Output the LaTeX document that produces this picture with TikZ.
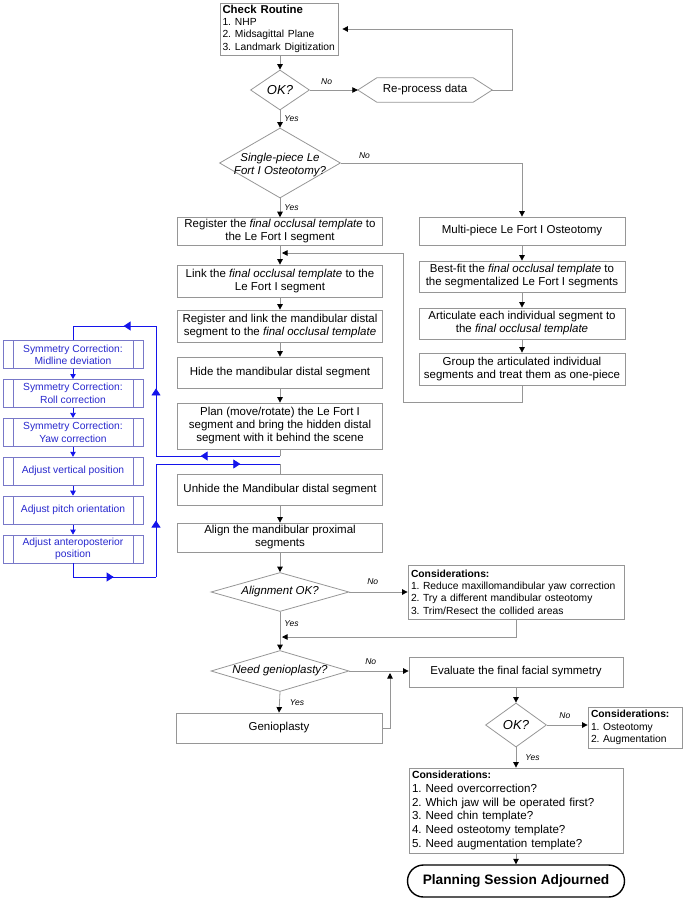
\documentclass[tikz,border=0pt]{standalone}
\usepackage{fontspec}
\setmainfont{Liberation Sans}
\usepackage{tikz}
\usetikzlibrary{shapes.geometric,arrows.meta,calc,decorations.markings}
\definecolor{edgegray}{RGB}{150,150,150}
\definecolor{blueln}{RGB}{20,20,235}
\definecolor{bluebd}{RGB}{120,120,200}
\definecolor{bluetx}{RGB}{40,40,205}
\frenchspacing
\hyphenpenalty=10000

\begin{document}
\begin{tikzpicture}[
  x=1pt, y=-1pt,
  font=\fontsize{11.5}{13}\selectfont,
  every node/.append style={align=center},
  box/.style={draw=edgegray, line width=0.8pt, inner sep=2pt},
  lcol/.style={box, minimum width=205pt},
  rcol/.style={box, minimum width=206pt},
  note/.style={box, align=left, inner xsep=3pt, font=\fontsize{10.3}{12.3}\selectfont},
  dia/.style={diamond, draw=edgegray, line width=0.8pt, inner sep=0pt},
  dtext/.style={font=\fontsize{11.5}{13.5}\selectfont\itshape, inner sep=0pt},
  bigq/.style={font=\fontsize{13}{15}\selectfont\itshape},
  symbox/.style={draw=bluebd, line width=0.8pt, text=bluetx, font=\fontsize{10.3}{12.3}\selectfont,
    minimum width=140pt, minimum height=28pt, inner sep=1pt, path picture={
    \draw[bluebd, line width=0.8pt] ([xshift=10pt]path picture bounding box.north west) -- ([xshift=10pt]path picture bounding box.south west);
    \draw[bluebd, line width=0.8pt] ([xshift=-10pt]path picture bounding box.north east) -- ([xshift=-10pt]path picture bounding box.south east);}},
  term/.style={draw=black, line width=1.4pt, rounded corners=16pt, minimum width=217pt, minimum height=32pt,
    font=\fontsize{13.7}{15}\selectfont\bfseries},
  conn/.style={draw=edgegray, line width=0.8pt},
  arr/.style={conn, -{Triangle[length=5.5pt, width=5.5pt, black]}},
  bluecon/.style={draw=blueln, line width=0.8pt},
  bluesm/.style={bluecon, -{Triangle[length=5pt, width=5.5pt]}},
  bluemid/.style={bluecon, postaction={decorate}, decoration={markings,
    mark=at position #1 with {\arrow{Triangle[length=7pt, width=9pt]}}}},
  lbl/.style={font=\fontsize{8.5}{10}\selectfont\itshape, inner sep=1pt}
]
\useasboundingbox (0,0) rectangle (685,900);

% check and re-process
\node[box, align=left, text width=113pt, inner xsep=2.5pt, minimum height=52pt] (chk) at (279,29)
  {{\fontsize{11.4}{12.3}\selectfont\bfseries Check Routine}\\
   \fontsize{10.3}{12.3}\selectfont 1. NHP\\2. Midsagittal Plane\\3. Landmark Digitization};
\node[dia, minimum width=59pt, minimum height=40pt] (ok1) at (280,90) {};
\node[dtext, bigq] (ok1t) at (ok1) {OK?};
\node[inner sep=0pt, minimum width=96pt, minimum height=24pt] (repro) at (425,90) {Re-process data};
\coordinate (repL) at ($(repro.west)+(-19,0)$);
\coordinate (repR) at ($(repro.east)+(19,0)$);
\coordinate (repT) at (512,90);
\draw[conn] (repro.north west) -- (repro.north east) -- (repR) -- (repro.south east)
  -- (repro.south west) -- (repL) -- cycle;
\node[dia, minimum width=121pt, minimum height=70pt] (single) at (280,163) {};
\node[dtext] (singlet) at ([yshift=-2pt]single.center) {Single-piece Le\\Fort I Osteotomy?};

% single-piece column
\node[lcol, minimum height=27pt] (reg) at (280,231.5) {Register the \textit{final occlusal template} to\\the Le Fort I segment};
\node[lcol, minimum height=32pt] (link) at (280,281) {Link the \textit{final occlusal template} to the\\Le Fort I segment};
\node[lcol, minimum height=32pt] (regl) at (280,326) {Register and link the mandibular distal\\segment to the \textit{final occlusal template}};
\node[lcol, minimum height=31pt] (hide) at (280,372.5) {Hide the mandibular distal segment};
\node[lcol, minimum height=46pt] (plan) at (280,426) {Plan (move/rotate) the Le Fort I\\segment and bring the hidden distal\\segment with it behind the scene};
\node[lcol, minimum height=31pt] (unhide) at (280,489.5) {Unhide the Mandibular distal segment};
\node[lcol, minimum height=29pt] (alignp) at (280,537.5) {Align the mandibular proximal\\segments};
\node[dia, minimum width=138pt, minimum height=39pt] (align) at (280,592) {};
\node[dtext] (alignt) at (align) {Alignment OK?};
\node[dia, minimum width=138pt, minimum height=41pt] (genio) at (280,671) {};
\node[dtext] (geniot) at (genio) {Need genioplasty?};
\node[box, minimum width=206pt, minimum height=30pt] (genp) at (279,728) {Genioplasty};

% multi-piece column
\node[rcol, minimum height=28pt] (multi) at (522,231) {Multi-piece Le Fort I Osteotomy};
\node[rcol, minimum height=31pt] (best) at (522,276.5) {Best-fit the \textit{final occlusal template} to\\the segmentalized Le Fort I segments};
\node[rcol, minimum height=31pt] (artic) at (522,323.5) {Articulate each individual segment to\\the \textit{final occlusal template}};
\node[rcol, minimum height=32pt] (group) at (522,369) {Group the articulated individual\\segments and treat them as one-piece};

% evaluation and end
\node[note, text width=210pt, minimum height=54pt] (cons1) at (516,592)
  {\textbf{Considerations:}\\1. Reduce maxillomandibular yaw correction\\2. Try a different mandibular osteotomy\\3. Trim/Resect the collided areas};
\node[box, minimum width=214pt, minimum height=30pt] (eval) at (516,672) {Evaluate the final facial symmetry};
\node[dia, minimum width=61pt, minimum height=44pt] (ok2) at (516,725) {};
\node[dtext, bigq] (ok2t) at (ok2) {OK?};
\node[note, text width=88pt, minimum height=41pt] (cons2) at (635,727.5)
  {\textbf{Considerations:}\\1. Osteotomy\\2. Augmentation};
\node[note, text width=208pt, minimum height=85pt, font=\fontsize{11.6}{13.7}\selectfont] (cons3) at (516,810.5)
  {{\fontsize{10.4}{13.7}\selectfont\bfseries Considerations:}\\1. Need overcorrection?\\2. Which jaw will be operated first?\\
   3. Need chin template?\\4. Need osteotomy template?\\5. Need augmentation template?};
\node[term] (adj) at (516,881) {Planning Session Adjourned};

% symmetry corrections
\node[symbox] (sym1) at (73,354.5) {Symmetry Correction:\\Midline deviation};
\node[symbox] (sym2) at (73,393.4) {Symmetry Correction:\\Roll correction};
\node[symbox] (sym3) at (73,432.3) {Symmetry Correction:\\Yaw correction};
\node[symbox] (sym4) at (73,471.2) {Adjust vertical position};
\node[symbox] (sym5) at (73,510.1) {Adjust pitch orientation};
\node[symbox] (sym6) at (73,549) {Adjust anteroposterior\\position};

% connectors
\draw[arr] (chk.south -| ok1.north) -- (ok1.north);
\draw[arr] (ok1.east) -- node[lbl, above=4pt, pos=0.35]{No} (repL);
\draw[arr, shorten >=4pt] (repR) -- (repT) |- (chk.east);
\draw[arr] (ok1.south) -- node[lbl, right=3pt]{Yes} (single.north);
\draw[arr] (single.east) -| node[lbl, above=3pt, pos=0.065]{No} (multi.north);
\draw[arr] (single.south) -- node[lbl, right=3pt]{Yes} (reg.north);
\draw[arr] (reg) -- (link);
\draw[arr] (link) -- (regl);
\draw[arr] (regl) -- (hide);
\draw[arr] (hide) -- (plan);
\draw[arr] (multi) -- (best);
\draw[arr] (best) -- (artic);
\draw[arr] (artic) -- (group);
\coordinate (fbA) at (403,402);
\coordinate (fbB) at (403,253);
\coordinate (fbC) at (280,253);
\draw[arr, shorten >=2pt] (group.south) |- (fbA) -- (fbB) -- (fbC);

% symmetry loop
\coordinate (pl1) at (280,456);
\coordinate (pl2) at (156,456);
\coordinate (pl3) at (156,326);
\coordinate (pl4) at (73,326);
\draw[conn] (plan.south) -- (pl1);
\draw[bluemid=0.64] (pl1) -- (pl2);
\draw[bluemid=0.52] (pl2) -- (pl3);
\draw[bluemid=0.39] (pl3) -- (pl4);
\draw[bluecon] (pl4) -- (sym1.north);
\draw[bluesm] (sym1) -- (sym2);
\draw[bluesm] (sym2) -- (sym3);
\draw[bluesm] (sym3) -- (sym4);
\draw[bluesm] (sym4) -- (sym5);
\draw[bluesm] (sym5) -- (sym6);
\coordinate (rt1) at (73,577);
\coordinate (rt2) at (156,577);
\coordinate (rt3) at (156,464);
\coordinate (rt4) at (280,464);
\draw[bluecon] (sym6.south) -- (rt1);
\draw[bluemid=0.49] (rt1) -- (rt2);
\draw[bluemid=0.5] (rt2) -- (rt3);
\draw[bluemid=0.68] (rt3) -- (rt4);
\draw[conn] (rt4) -- (unhide.north);

\draw[arr] (unhide) -- (alignp);
\draw[arr] (alignp.south) -- (align.north);
\draw[arr] (align.east) -- node[lbl, above=6pt, pos=0.4]{No} (align.east -| cons1.west);
\coordinate (mrg) at (280,637);
\draw[arr, shorten >=2pt] (cons1.south) |- (mrg);
\draw[arr] (align.south) -- node[lbl, right=3pt, pos=0.3]{Yes} (genio.north);
\draw[arr] (genio.east) -- node[lbl, above=5pt, pos=0.36]{No} (genio.east -| eval.west);
\draw[arr] (genio.south) -- node[lbl, right=9pt]{Yes} (genp.north);
\coordinate (gj) at (390,671);
\draw[arr, shorten >=2pt] (genp.east) -| (gj);
\draw[arr] (eval.south) -- (ok2.north);
\draw[arr] (ok2.east) -- node[lbl, above=5pt, pos=0.44]{No} (ok2.east -| cons2.west);
\draw[arr] (ok2.south) -- node[lbl, right=8pt]{Yes} (cons3.north);
\draw[arr] (cons3) -- (adj);
\end{tikzpicture}
\end{document}
